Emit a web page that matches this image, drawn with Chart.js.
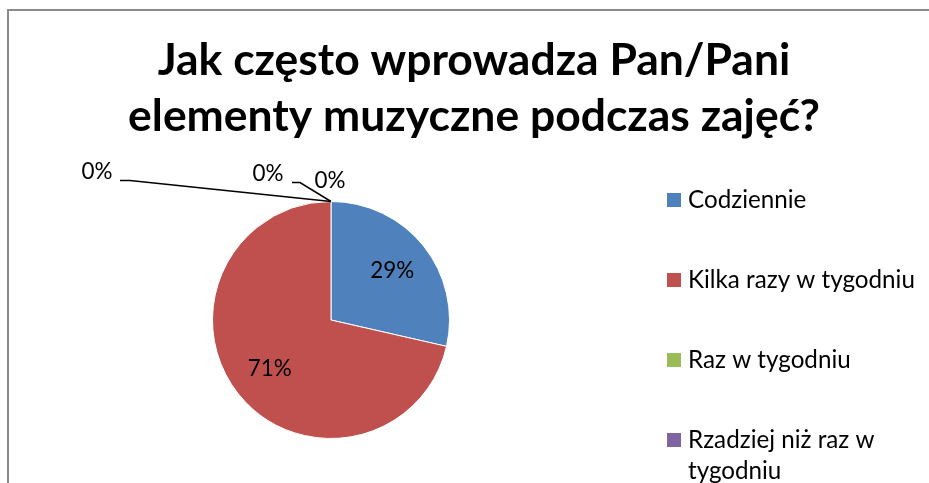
<!DOCTYPE html>
<html>
<head>
<meta charset="utf-8">
<script src="https://cdn.jsdelivr.net/npm/chart.js@4"></script>
<style>
  html, body { margin: 0; padding: 0; background: #fff; }
  #chart { display: block; }
</style>
</head>
<body>
<canvas id="chart" width="929" height="483"></canvas>
<script>
const titleLines = ['Jak często wprowadza Pan/Pani', 'elementy muzyczne podczas zajęć?'];
const categories = ['Codziennie', 'Kilka razy w tygodniu', 'Raz w tygodniu', 'Rzadziej niż raz w tygodniu', 'Nigdy'];
const answers = [2, 5, 0, 0, 0];
const colors = ['#4F81BD', '#C0504D', '#9BBB59', '#8064A2', '#4BACC6'];

// where Excel put the labels of the empty slices, relative to the top of the pie
const zeroLabelOffsets = {
    2: {text: [-234, -30], line: [[-211, -21], [-201, -21]]},
    3: {text: [-63, -28], line: [[-39, -19], [-31, -19]]},
    4: {text: [-1, -21], line: null},
};

const FONT = 'Lato, "Open Sans", sans-serif';

const fitFont = (ctx, text, width, weight) => {
    ctx.font = `${weight} 100px ${FONT}`;
    return 100 * width / ctx.measureText(text).width;
};

const wrap = (ctx, text, maxWidth) => {
    let lines = [];
    let line = '';
    text.split(' ').forEach(function (word) {
        let test = line ? line + ' ' + word : word;
        if (line && ctx.measureText(test).width > maxWidth) {
            lines.push(line);
            line = word;
        } else {
            line = test;
        }
    });
    lines.push(line);
    return lines;
};

const decorations = {
    id: 'decorations',
    afterDraw(chart) {
        const ctx = chart.ctx;
        const total = answers.reduce((a, b) => a + b, 0);
        ctx.save();

        // frame
        ctx.strokeStyle = '#8a8a8a';
        ctx.lineWidth = 2;
        ctx.strokeRect(8, 10, 1000, 1000);

        // title
        const titleSize = fitFont(ctx, titleLines[1], 692, 'bold');
        ctx.font = `bold ${titleSize}px ${FONT}`;
        ctx.fillStyle = '#000';
        ctx.textAlign = 'center';
        ctx.textBaseline = 'alphabetic';
        titleLines.forEach(function (line, i) {
            ctx.fillText(line, 474, 75 + i * 56);
        });

        // data labels
        const labelSize = fitFont(ctx, '29%', 44, 'normal');
        ctx.font = `${labelSize}px ${FONT}`;
        ctx.textBaseline = 'middle';
        ctx.strokeStyle = '#000';
        ctx.lineWidth = 1.5;
        const meta = chart.getDatasetMeta(0);
        meta.data.forEach(function (arc, i) {
            const text = Math.round(answers[i] / total * 100) + '%';
            if (answers[i] > 0) {
                const mid = (arc.startAngle + arc.endAngle) / 2;
                const r = arc.outerRadius * 0.66;
                ctx.fillText(text, arc.x + Math.cos(mid) * r, arc.y + Math.sin(mid) * r);
            } else {
                const sx = arc.x + Math.cos(arc.startAngle) * arc.outerRadius;
                const sy = arc.y + Math.sin(arc.startAngle) * arc.outerRadius;
                const off = zeroLabelOffsets[i];
                if (off.line) {
                    ctx.beginPath();
                    ctx.moveTo(sx + off.line[0][0], sy + off.line[0][1]);
                    ctx.lineTo(sx + off.line[1][0], sy + off.line[1][1]);
                    ctx.lineTo(sx, sy);
                    ctx.stroke();
                }
                ctx.fillText(text, sx + off.text[0], sy + off.text[1]);
            }
        });

        // legend
        const legendSize = fitFont(ctx, categories[1], 227, 'normal');
        ctx.font = `${legendSize}px ${FONT}`;
        ctx.textAlign = 'left';
        let y = 200;
        categories.forEach(function (cat, i) {
            ctx.fillStyle = colors[i];
            ctx.fillRect(667, y - 7, 14, 14);
            ctx.fillStyle = '#000';
            const lines = wrap(ctx, cat, 232);
            lines.forEach(function (line, j) {
                ctx.fillText(line, 688, y + j * 31);
            });
            y += 80 + (lines.length - 1) * 31;
        });

        ctx.restore();
    },
};

new Chart(document.getElementById('chart'), {
    type: 'pie',
    data: {
        labels: categories,
        datasets: [
            {
                data: answers,
                backgroundColor: colors,
                borderColor: '#ffffff',
                borderWidth: 1,
            },
        ],
    },
    options: {
        responsive: false,
        animation: false,
        layout: {
            padding: {left: 212, top: 201, right: 479, bottom: 44},
        },
        plugins: {
            legend: {display: false},
            title: {display: false},
            tooltip: {enabled: false},
        },
    },
    plugins: [decorations],
});
</script>
</body>
</html>
